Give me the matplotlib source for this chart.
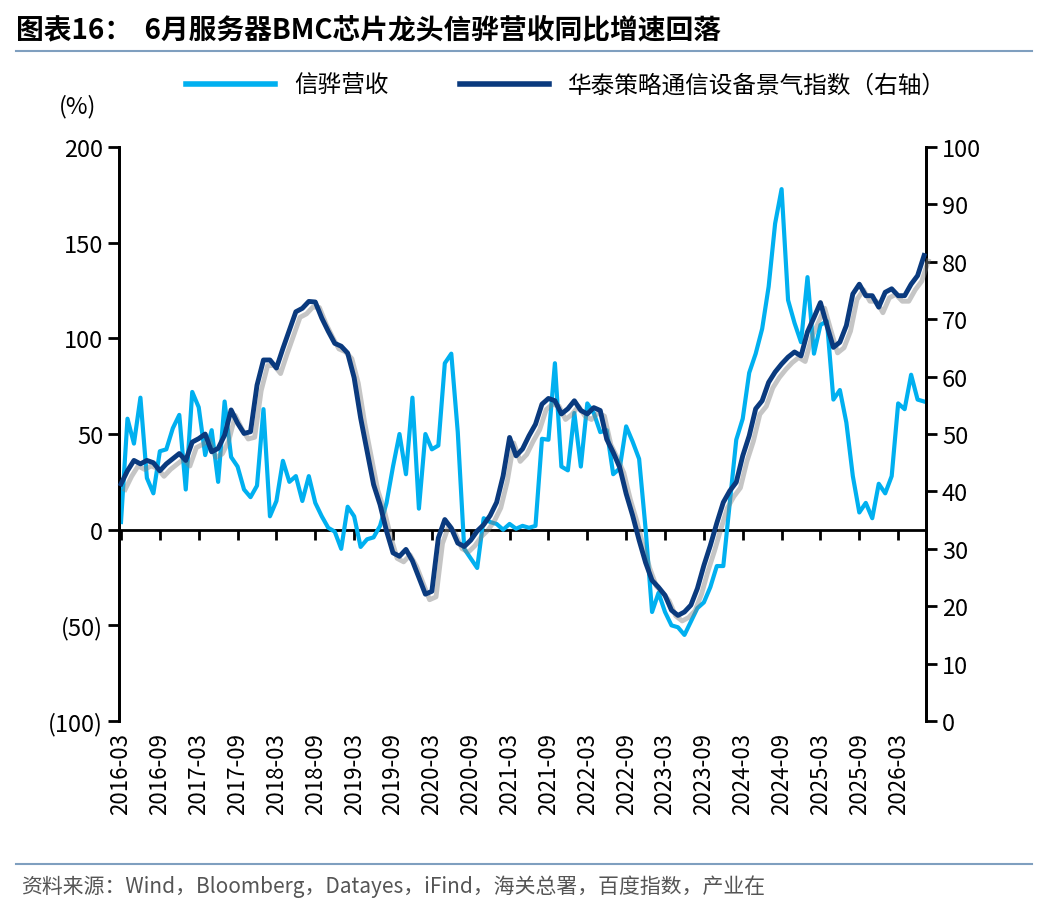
import matplotlib
matplotlib.use("Agg")
import matplotlib.pyplot as plt
import matplotlib.patheffects as pe
from matplotlib.lines import Line2D
import numpy as np

plt.rcParams['font.family'] = ['Noto Sans CJK SC', 'DejaVu Sans']

# 信骅营收 YoY (%), monthly from 2016-03
revenue = [4, 58, 45, 69, 27, 19, 41, 42, 53, 60, 21, 72, 64, 39, 52, 25, 67, 38, 33, 21,
           17, 23, 63, 7, 15, 36, 25, 28, 15, 28, 14, 7, 1, -1, -10, 12, 7, -9, -5, -4,
           2, 14, 33, 50, 29, 69, 11, 50, 42, 44, 87, 92, 51, -10, -15, -20, 6, 4, 3, 0,
           3, 0.5, 2, 1, 2, 47.5, 47, 87, 33, 31, 61, 33, 66, 61, 51, 52, 29, 32, 54, 46, 37,
           0.5, -43, -33, -43, -50, -51, -55, -48, -41, -38, -30, -19, -19, 14, 47, 58, 82,
           92, 105, 127, 160, 178, 120, 108, 98, 132, 92, 107, 109, 68, 73, 56, 28, 9, 14, 6,
           24, 19, 28, 66, 63, 81, 68, 67]
# 华泰策略通信设备景气指数 (right axis)
index = [41.3, 43.6, 45.4, 44.8, 45.4, 45.0, 43.6, 44.8, 45.7, 46.6, 45.4, 48.6, 49.2, 50.0, 46.9,
         47.5, 49.8, 54.2, 51.9, 50.1, 50.4, 58.5, 62.9, 62.9, 61.5, 64.9, 68.1, 71.3, 71.9,
         73.1, 73.0, 70.2, 67.9, 65.8, 65.3, 64.1, 59.8, 52.8, 47.0, 41.2, 37.7, 33.1, 29.3,
         28.7, 29.9, 27.9, 25.0, 22.1, 22.6, 31.9, 35.1, 33.6, 31.0, 30.4, 31.5, 33.1, 34.2,
         35.8, 38.1, 42.7, 49.4, 46.2, 47.4, 49.7, 51.7, 55.2, 56.2, 55.8, 53.5, 54.4,
         55.8, 54.1, 53.5, 54.6, 54.1, 49.1, 46.8, 44.2, 39.6, 35.8, 31.5, 27.6, 24.5, 23.3,
         21.9, 19.3, 18.4, 19.0, 20.2, 23.1, 27.1, 30.6, 34.5, 38.1, 40.1, 41.6, 46.2, 49.7,
         54.4, 55.8, 59.0, 60.8, 62.2, 63.4, 64.3, 63.6, 67.8, 70.3, 72.9, 68.9, 65.1, 66.0,
         68.9, 74.4, 76.1, 74.1, 74.1, 72.1, 74.7, 75.3, 74.1, 74.1, 76.1, 77.6, 81.1]

tick_labels = [f"{y}-{m:02d}" for y in range(2016, 2027) for m in (3, 9)][:-1]
left_ticks = [200, 150, 100, 50, 0, -50, -100]
left_labels = ["200", "150", "100", "50", "0", "(50)", "(100)"]

light = '#00B0F0'
dark = '#0A3A7E'

fig = plt.figure(figsize=(10.48, 9.12), dpi=100)
ax = fig.add_axes([0.1136, 0.2083, 0.77, 0.6294])
ax2 = ax.twinx()

x1 = np.arange(len(revenue))
x2 = np.arange(len(index))
ax.plot(x1, revenue, color=light, lw=3, zorder=3)
ax2.plot(x2, index, color=dark, lw=3.5, zorder=4, clip_on=False,
         path_effects=[pe.SimpleLineShadow(offset=(3, -4), shadow_color='gray', alpha=0.45),
                       pe.Normal()])

ax.set_ylim(-100, 200)
ax2.set_ylim(0, 100)
ax.set_xlim(-0.3, 124.3)
ax.set_yticks(left_ticks)
ax.set_yticklabels(left_labels)
ax2.set_yticks(range(0, 101, 10))

for a in (ax, ax2):
    a.spines['top'].set_visible(False)
    a.spines['left'].set_linewidth(2)
    a.spines['right'].set_linewidth(2)
    a.tick_params(axis='y', width=2, length=8, labelsize=17, direction='out')
ax2.spines['bottom'].set_visible(False)
ax.spines['bottom'].set_position(('data', 0))
ax.spines['bottom'].set_linewidth(2)
ticks = np.arange(0, 121, 6)
ax.set_xticks(ticks)
ax.tick_params(axis='x', width=2, length=7, direction='out', labelbottom=False)
sec = ax.secondary_xaxis('bottom')
sec.set_xticks(ticks)
sec.set_xticklabels(tick_labels, rotation=90, fontsize=16)
sec.spines['bottom'].set_visible(False)
sec.tick_params(length=0, pad=8)

ax.text(-0.075, 1.06, "(%)", transform=ax.transAxes, fontsize=17)

handles = [Line2D([], [], color=light, lw=4), Line2D([], [], color=dark, lw=4)]
fig.legend(handles, ["信骅营收", "华泰策略通信设备景气指数（右轴）"], loc='center',
           bbox_to_anchor=(0.54, 0.905), ncol=2, frameon=False, fontsize=17,
           handlelength=3.8, columnspacing=3)

fig.text(0.015, 0.967, "图表16：  6月服务器BMC芯片龙头信骅营收同比增速回落",
         fontsize=20, fontweight='bold', va='center')
fig.add_artist(Line2D([0.015, 0.985], [0.943, 0.943], color='#7F9FBF', lw=1.5))
fig.add_artist(Line2D([0.015, 0.985], [0.052, 0.052], color='#7F9FBF', lw=1.5))
fig.text(0.02, 0.028, "资料来源：Wind，Bloomberg，Datayes，iFind，海关总署，百度指数，产业在",
         fontsize=15, color='#555555', va='center')

fig.savefig("out.png", dpi=100)
